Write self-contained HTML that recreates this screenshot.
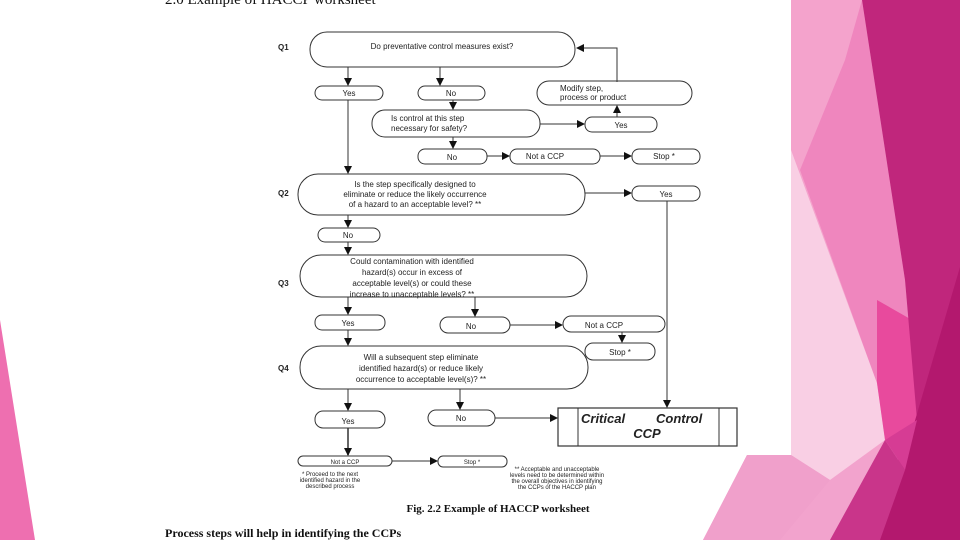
<!DOCTYPE html>
<html><head><meta charset="utf-8"><style>
html,body{margin:0;padding:0;width:960px;height:540px;overflow:hidden;background:#fff}
svg{display:block}
text{font-family:"Liberation Sans",sans-serif;fill:#222}
.s{font-size:8px}
.serif{font-family:"Liberation Serif",serif;fill:#111}
</style></head><body>
<svg width="960" height="540" viewBox="0 0 960 540" xmlns="http://www.w3.org/2000/svg">
<defs><marker id="a" markerWidth="8" markerHeight="8" refX="7" refY="4" orient="auto" markerUnits="userSpaceOnUse"><path d="M0,0 L8,4 L0,8z" fill="#111"/></marker></defs>
<!-- decorations -->
<rect x="791" y="0" width="169" height="540" fill="#f4a3cc"/>
<polygon points="747,455 960,455 960,540 703,540" fill="#f2a3cd"/>
<polygon points="791,150 877,383 885,440 830,480 791,455" fill="#f9cfe4"/>
<polygon points="791,455 830,480 780,540 703,540 747,455" fill="#f0a0cb"/>
<polygon points="845,60 862,0 905,280 917,420 877,383 800,170" fill="#ef86be"/>
<polygon points="877,300 912,320 920,420 885,440 877,383" fill="#e84a9d"/>
<polygon points="862,0 960,0 960,540 860,540 917,420 905,280" fill="#c0267c"/>
<polygon points="960,267 960,540 880,540" fill="#b3186e"/>
<polygon points="830,540 885,440 905,470 880,540" fill="#c9358a"/>
<polygon points="885,440 917,420 905,470" fill="#d63c94"/>
<rect x="0" y="0" width="791" height="455" fill="#fff"/>
<polygon points="0,320 0,540 35,540" fill="#ee6fb0"/>
<!-- title -->
<text x="165" y="4" class="serif" font-size="15">2.0 Example of HACCP worksheet</text>
<g fill="none" stroke="#333" stroke-width="1">
<rect x="310" y="32" width="265" height="35" rx="17"/>
<rect x="537" y="81" width="155" height="24" rx="12"/>
<rect x="315" y="86" width="68" height="14" rx="7"/>
<rect x="418" y="86" width="67" height="14" rx="7"/>
<rect x="372" y="110" width="168" height="27" rx="13"/>
<rect x="585" y="117" width="72" height="15" rx="7"/>
<rect x="418" y="149" width="69" height="15" rx="7"/>
<rect x="510" y="149" width="90" height="15" rx="7"/>
<rect x="632" y="149" width="68" height="15" rx="7"/>
<rect x="298" y="174" width="287" height="41" rx="20"/>
<rect x="632" y="186" width="68" height="15" rx="7"/>
<rect x="318" y="228" width="62" height="14" rx="7"/>
<rect x="300" y="255" width="287" height="42" rx="21"/>
<rect x="315" y="315" width="70" height="15" rx="7"/>
<rect x="440" y="317" width="70" height="16" rx="8"/>
<rect x="563" y="316" width="102" height="16" rx="8"/>
<rect x="585" y="343" width="70" height="17" rx="8"/>
<rect x="300" y="346" width="288" height="43" rx="21"/>
<rect x="315" y="411" width="70" height="17" rx="8"/>
<rect x="428" y="410" width="67" height="16" rx="8"/>
<rect x="558" y="408" width="179" height="38" stroke-width="1.2"/>
<line x1="578" y1="408" x2="578" y2="446"/><line x1="719" y1="408" x2="719" y2="446"/>
<rect x="298" y="456" width="94" height="10" rx="5"/>
<rect x="438" y="456" width="69" height="11" rx="5"/>
<!-- connectors -->
<path d="M617,82 V48 H577" marker-end="url(#a)"/>
<path d="M348,67 V85" marker-end="url(#a)"/>
<path d="M440,67 V85" marker-end="url(#a)"/>
<path d="M453,100 V109" marker-end="url(#a)"/>
<path d="M540,124 H584" marker-end="url(#a)"/>
<path d="M617,117 V106" marker-end="url(#a)"/>
<path d="M453,137 V148" marker-end="url(#a)"/>
<path d="M487,156 H509" marker-end="url(#a)"/>
<path d="M600,156 H631" marker-end="url(#a)"/>
<path d="M348,100 V173" marker-end="url(#a)"/>
<path d="M585,193 H631" marker-end="url(#a)"/>
<path d="M667,201 V407" marker-end="url(#a)"/>
<path d="M348,215 V227" marker-end="url(#a)"/>
<path d="M348,242 V254" marker-end="url(#a)"/>
<path d="M348,297 V314" marker-end="url(#a)"/>
<path d="M475,297 V316" marker-end="url(#a)"/>
<path d="M510,325 H562" marker-end="url(#a)"/>
<path d="M622,332 V342" marker-end="url(#a)"/>
<path d="M348,330 V345" marker-end="url(#a)"/>
<path d="M348,389 V410" marker-end="url(#a)"/>
<path d="M460,389 V409" marker-end="url(#a)"/>
<path d="M495,418 H557" marker-end="url(#a)"/>
<path d="M348,428 V455" marker-end="url(#a)" stroke-width="1.5"/>
<path d="M392,461 H437" marker-end="url(#a)"/>
</g>
<g class="s">
<text x="278" y="50" font-weight="bold">Q1</text>
<text x="278" y="196" font-weight="bold">Q2</text>
<text x="278" y="286" font-weight="bold">Q3</text>
<text x="278" y="371" font-weight="bold">Q4</text>
<text x="442" y="49" text-anchor="middle">Do preventative control measures exist?</text>
<text x="560" y="91">Modify step,</text><text x="560" y="100">process or product</text>
<text x="349" y="96" text-anchor="middle">Yes</text>
<text x="451" y="96" text-anchor="middle">No</text>
<text x="391" y="121">Is control at this step</text><text x="391" y="131">necessary for safety?</text>
<text x="621" y="128" text-anchor="middle">Yes</text>
<text x="452" y="160" text-anchor="middle">No</text>
<text x="545" y="159" text-anchor="middle">Not a CCP</text>
<text x="664" y="159" text-anchor="middle">Stop *</text>
<text x="415" y="187" text-anchor="middle">Is the step specifically designed to</text>
<text x="415" y="197" text-anchor="middle">eliminate or reduce the likely occurrence</text>
<text x="415" y="207" text-anchor="middle">of a hazard to an acceptable level? **</text>
<text x="666" y="197" text-anchor="middle">Yes</text>
<text x="348" y="238" text-anchor="middle">No</text>
<text x="412" y="264" text-anchor="middle">Could contamination with identified</text>
<text x="412" y="275" text-anchor="middle">hazard(s) occur in excess of</text>
<text x="412" y="286" text-anchor="middle">acceptable level(s) or could these</text>
<text x="412" y="297" text-anchor="middle">increase to unacceptable levels? **</text>
<text x="348" y="326" text-anchor="middle">Yes</text>
<text x="471" y="329" text-anchor="middle">No</text>
<text x="604" y="328" text-anchor="middle">Not a CCP</text>
<text x="620" y="355" text-anchor="middle">Stop *</text>
<text x="421" y="360" text-anchor="middle">Will a subsequent step eliminate</text>
<text x="421" y="371" text-anchor="middle">identified hazard(s) or reduce likely</text>
<text x="421" y="382" text-anchor="middle">occurrence to acceptable level(s)? **</text>
<text x="348" y="424" text-anchor="middle">Yes</text>
<text x="461" y="421" text-anchor="middle">No</text>
</g>
<text x="581" y="423" font-size="13" font-weight="bold" font-style="italic" fill="#444">Critical</text>
<text x="656" y="423" font-size="13" font-weight="bold" font-style="italic" fill="#444">Control</text>
<text x="647" y="438" font-size="13" font-weight="bold" font-style="italic" fill="#444" text-anchor="middle">CCP</text>
<g font-size="6">
<text x="345" y="464" text-anchor="middle">Not a CCP</text>
<text x="472" y="464" text-anchor="middle">Stop *</text>
<text x="330" y="476" text-anchor="middle">* Proceed to the next</text>
<text x="330" y="482" text-anchor="middle">identified hazard in the</text>
<text x="330" y="488" text-anchor="middle">described process</text>
<text x="557" y="471" text-anchor="middle">** Acceptable and unacceptable</text>
<text x="557" y="477" text-anchor="middle">levels need to be determined within</text>
<text x="557" y="483" text-anchor="middle">the overall objectives in identifying</text>
<text x="557" y="489" text-anchor="middle">the CCPs of the HACCP plan</text>
</g>
<text x="498" y="512" class="serif" font-size="11" font-weight="bold" text-anchor="middle">Fig. 2.2 Example of HACCP worksheet</text>
<text x="165" y="537" class="serif" font-size="12" font-weight="bold">Process steps will help in identifying the CCPs</text>
</svg>
</body></html>
